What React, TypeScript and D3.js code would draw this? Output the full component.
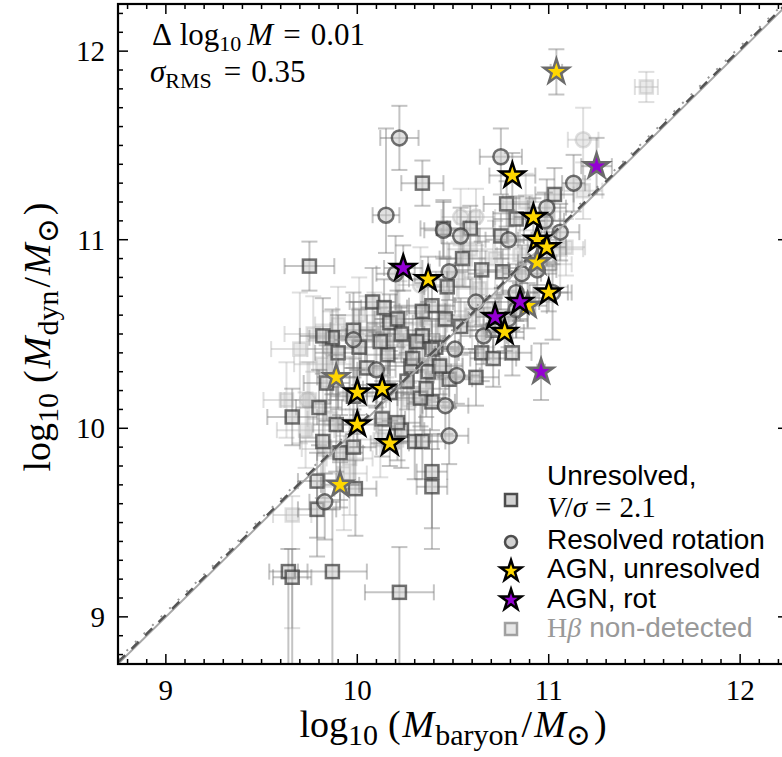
import React from 'react';
import * as d3 from 'd3';

type P = [number, number, number, number, number]; // x, y, xerr, yerrLow, yerrHigh

const unresolved: P[] = [
  [9.75, 10.86, 0.13, 0.13, 0.13], [10.34, 11.30, 0.11, 0.12, 0.12], [11.03, 11.24, 0.10, 0.14, 0.14],
  [10.78, 11.19, 0.12, 0.12, 0.12], [10.45, 11.06, 0.12, 0.15, 0.15], [10.59, 11.06, 0.12, 0.12, 0.12],
  [10.83, 11.11, 0.12, 0.12, 0.12], [10.75, 11.02, 0.12, 0.12, 0.12], [10.55, 10.90, 0.12, 0.15, 0.15],
  [10.65, 10.84, 0.14, 0.15, 0.15], [10.76, 10.83, 0.12, 0.12, 0.12], [10.08, 10.67, 0.12, 0.18, 0.18],
  [10.14, 10.64, 0.12, 0.15, 0.15], [10.17, 10.56, 0.12, 0.15, 0.15], [10.39, 10.65, 0.12, 0.15, 0.15],
  [10.46, 10.58, 0.12, 0.15, 0.15], [9.87, 10.48, 0.12, 0.30, 0.15], [9.90, 10.40, 0.12, 0.30, 0.20],
  [10.01, 10.43, 0.12, 0.20, 0.20], [10.16, 10.39, 0.12, 0.15, 0.15], [10.34, 10.49, 0.12, 0.15, 0.15],
  [10.41, 10.43, 0.12, 0.15, 0.15], [10.28, 10.33, 0.12, 0.15, 0.15], [10.37, 10.30, 0.12, 0.15, 0.15],
  [10.05, 10.32, 0.12, 0.20, 0.20], [9.84, 10.24, 0.12, 0.20, 0.20], [9.66, 10.06, 0.13, 0.15, 0.15],
  [9.80, 10.11, 0.12, 0.20, 0.20], [9.89, 10.02, 0.12, 0.25, 0.20], [9.82, 9.93, 0.12, 0.30, 0.20],
  [9.91, 9.87, 0.12, 0.25, 0.20], [10.13, 10.05, 0.12, 0.20, 0.20], [10.23, 9.99, 0.12, 0.20, 0.20],
  [10.30, 9.93, 0.12, 0.20, 0.20], [10.39, 9.77, 0.08, 0.30, 0.20], [10.39, 9.69, 0.08, 0.33, 0.20],
  [9.79, 9.72, 0.10, 0.30, 0.15], [9.99, 9.68, 0.11, 0.25, 0.15], [9.79, 9.57, 0.10, 0.25, 0.15],
  [9.64, 9.24, 0.10, 0.60, 0.12], [9.66, 9.21, 0.10, 0.60, 0.15], [9.87, 9.24, 0.18, 0.60, 0.33],
  [10.22, 9.13, 0.18, 0.60, 0.24], [10.81, 10.40, 0.10, 0.12, 0.12], [10.65, 10.40, 0.12, 0.15, 0.15],
  [10.71, 10.37, 0.12, 0.15, 0.15], [10.62, 10.27, 0.12, 0.15, 0.15], [10.48, 10.26, 0.12, 0.15, 0.15],
  [10.54, 10.54, 0.12, 0.15, 0.15], [10.71, 10.52, 0.12, 0.15, 0.15], [10.39, 10.14, 0.12, 0.15, 0.15],
  [10.33, 10.16, 0.12, 0.15, 0.15], [10.34, 9.93, 0.12, 0.20, 0.20], [9.98, 9.90, 0.12, 0.20, 0.20],
  [10.21, 10.03, 0.12, 0.20, 0.20], [9.82, 10.49, 0.12, 0.20, 0.20], [10.29, 10.37, 0.12, 0.15, 0.15],
  [10.26, 10.25, 0.12, 0.15, 0.15], [10.47, 10.75, 0.12, 0.15, 0.15],
  [10.34, 10.62, 0.12, 0.15, 0.15], [10.39, 10.42, 0.12, 0.15, 0.15], [10.17, 10.19, 0.12, 0.18, 0.18],
  [9.98, 10.17, 0.12, 0.20, 0.20], [10.36, 10.21, 0.12, 0.15, 0.15], [10.31, 10.46, 0.12, 0.15, 0.15],
  [10.43, 10.33, 0.12, 0.15, 0.15], [10.23, 10.50, 0.12, 0.15, 0.15], [10.21, 10.58, 0.12, 0.15, 0.15],
  [10.12, 10.46, 0.12, 0.18, 0.18], [9.98, 10.52, 0.12, 0.20, 0.20],
];

const resolved: P[] = [
  [10.22, 11.54, 0.10, 0.17, 0.17], [10.15, 11.13, 0.07, 0.20, 0.46], [10.45, 11.05, 0.10, 0.15, 0.15],
  [10.75, 11.44, 0.11, 0.20, 0.15], [11.13, 11.30, 0.06, 0.15, 0.15], [11.06, 11.04, 0.10, 0.15, 0.15],
  [10.99, 11.17, 0.10, 0.20, 0.15], [10.98, 11.10, 0.10, 0.15, 0.15], [10.79, 11.00, 0.12, 0.15, 0.15],
  [10.54, 11.02, 0.10, 0.15, 0.15], [10.48, 10.83, 0.10, 0.15, 0.15], [10.86, 10.82, 0.10, 0.15, 0.15],
  [10.94, 10.84, 0.10, 0.15, 0.15], [10.62, 10.67, 0.12, 0.15, 0.15], [10.83, 10.72, 0.10, 0.15, 0.15],
  [11.02, 10.72, 0.10, 0.25, 0.15], [10.66, 10.49, 0.12, 0.15, 0.15], [10.51, 10.42, 0.12, 0.15, 0.15],
  [10.52, 10.28, 0.12, 0.15, 0.15], [10.46, 10.12, 0.12, 0.15, 0.15], [10.48, 9.96, 0.10, 0.15, 0.15],
  [10.79, 10.58, 0.10, 0.15, 0.15], [10.83, 10.63, 0.10, 0.15, 0.15], [10.20, 10.82, 0.10, 0.20, 0.20],
  [9.98, 10.47, 0.10, 0.20, 0.20], [10.10, 10.31, 0.10, 0.20, 0.20], [9.83, 9.61, 0.08, 0.20, 0.15],
];

const agnUnresolved: P[] = [
  [10.81, 11.34, 0.12, 0.12, 0.12], [10.92, 11.12, 0.10, 0.10, 0.10], [10.94, 11.00, 0.10, 0.10, 0.10],
  [10.99, 10.96, 0.10, 0.10, 0.10], [10.37, 10.79, 0.10, 0.12, 0.12], [11.00, 10.72, 0.10, 0.10, 0.10],
  [10.77, 10.51, 0.10, 0.10, 0.10], [10.00, 10.19, 0.10, 0.12, 0.12], [10.13, 10.21, 0.10, 0.12, 0.12],
  [10.00, 10.02, 0.10, 0.12, 0.12], [10.17, 9.92, 0.10, 0.12, 0.12],
];
const agnUnresolvedFaint: P[] = [
  [10.94, 10.88, 0.10, 0.12, 0.12], [10.89, 10.65, 0.10, 0.12, 0.12], [9.89, 10.27, 0.10, 0.12, 0.12],
  [9.91, 9.70, 0.10, 0.12, 0.12], [11.04, 11.89, 0.03, 0.12, 0.12],
];
const agnRot: P[] = [
  [10.24, 10.85, 0.10, 0.12, 0.12], [10.85, 10.67, 0.10, 0.10, 0.10], [10.72, 10.59, 0.10, 0.10, 0.10],
];
const agnRotFaint: P[] = [
  [11.25, 11.39, 0.08, 0.15, 0.15], [10.96, 10.30, 0.02, 0.15, 0.15],
];

const nonDetectedSq: P[] = [
  [11.51, 11.81, 0.06, 0.08, 0.08], [10.88, 11.20, 0.12, 0.15, 0.15], [11.18, 11.26, 0.10, 0.15, 0.15],
  [11.09, 10.96, 0.10, 0.15, 0.15], [9.66, 9.54, 0.10, 0.60, 0.10], [9.77, 10.50, 0.15, 0.20, 0.20],
  [9.70, 10.42, 0.15, 0.50, 0.30], [9.82, 10.34, 0.15, 0.20, 0.20], [9.75, 10.15, 0.15, 0.20, 0.20],
  [9.73, 9.99, 0.15, 0.20, 0.20], [9.96, 9.84, 0.12, 0.30, 0.20], [9.93, 9.76, 0.12, 0.30, 0.20],
  [10.09, 10.52, 0.12, 0.20, 0.20], [10.22, 10.58, 0.12, 0.20, 0.20], [10.27, 10.44, 0.12, 0.20, 0.20],
  [10.53, 10.79, 0.12, 0.20, 0.20], [10.59, 10.95, 0.12, 0.20, 0.20], [10.72, 10.90, 0.12, 0.20, 0.20],
  [10.64, 10.74, 0.12, 0.20, 0.20], [10.85, 10.92, 0.12, 0.20, 0.20], [11.00, 10.87, 0.12, 0.20, 0.20],
  [11.06, 10.95, 0.12, 0.20, 0.20], [10.27, 10.15, 0.12, 0.20, 0.20], [10.12, 9.94, 0.12, 0.20, 0.20],
  [10.43, 10.34, 0.12, 0.20, 0.20], [9.96, 10.18, 0.12, 0.20, 0.20], [9.86, 10.05, 0.12, 0.20, 0.20],
  [10.01, 10.60, 0.12, 0.20, 0.20], [9.83, 9.89, 0.12, 0.20, 0.20], [9.63, 10.15, 0.12, 0.20, 0.20],
  [9.90, 10.55, 0.12, 0.20, 0.20], [10.05, 10.50, 0.12, 0.20, 0.20], [10.15, 10.47, 0.12, 0.20, 0.20],
  [10.35, 10.55, 0.12, 0.20, 0.20], [10.45, 10.62, 0.12, 0.20, 0.20], [10.60, 10.60, 0.12, 0.20, 0.20],
  [10.68, 10.63, 0.12, 0.20, 0.20],
];
const nonDetectedCirc: P[] = [
  [11.18, 11.53, 0.08, 0.21, 0.17], [10.54, 11.12, 0.10, 0.15, 0.15], [10.62, 11.12, 0.10, 0.15, 0.15],
  [9.74, 10.15, 0.12, 0.20, 0.20], [9.86, 10.42, 0.12, 0.20, 0.20], [10.33, 10.76, 0.12, 0.20, 0.20],
];

const xTicks = [9, 10, 11, 12];
const yTicks = [9, 10, 11, 12];
const deltaLogM = '0.01';
const sigmaRMS = '0.35';
const offset = 0.01;

const W = 782, H = 757;
const xDom: [number, number] = [8.75, 12.25];
const yDom: [number, number] = [8.75, 12.25];
const L = 118, R = 788, T = 4, B = 664;

const SERIF = '"Liberation Serif", "DejaVu Serif", serif';
const SANS = '"Liberation Sans", Arial, sans-serif';
const NB = '\u00A0';

const x = d3.scaleLinear().domain(xDom).range([L, R]);
const y = d3.scaleLinear().domain(yDom).range([B, T]);

const starPath = (r: number) => d3.symbol().type(d3.symbolStar).size((r * r) / 0.8908130915292852)()!;

function ErrBars({ data, color }: { data: P[]; color: string }) {
  const cap = 8;
  return (
    <g stroke={color} strokeWidth={2} fill="none">
      {data.map((p, i) => {
        const cx = x(p[0]), cy = y(p[1]);
        const x0 = x(p[0] - p[2]), x1 = x(p[0] + p[2]);
        const y0 = y(p[1] - p[3]), y1 = y(p[1] + p[4]);
        return (
          <g key={i}>
            <line x1={x0} x2={x1} y1={cy} y2={cy} />
            <line x1={x0} x2={x0} y1={cy - cap} y2={cy + cap} />
            <line x1={x1} x2={x1} y1={cy - cap} y2={cy + cap} />
            <line x1={cx} x2={cx} y1={y0} y2={y1} />
            <line x1={cx - cap} x2={cx + cap} y1={y0} y2={y0} />
            <line x1={cx - cap} x2={cx + cap} y1={y1} y2={y1} />
          </g>
        );
      })}
    </g>
  );
}

function Squares({ data, fill, stroke, s = 13 }: { data: P[]; fill: string; stroke: string; s?: number }) {
  return (
    <g>
      {data.map((p, i) => (
        <rect key={i} x={x(p[0]) - s / 2} y={y(p[1]) - s / 2} width={s} height={s} fill={fill} stroke={stroke} strokeWidth={2.5} />
      ))}
    </g>
  );
}
function Circles({ data, fill, stroke, r = 7.5 }: { data: P[]; fill: string; stroke: string; r?: number }) {
  return (
    <g>
      {data.map((p, i) => (
        <circle key={i} cx={x(p[0])} cy={y(p[1])} r={r} fill={fill} stroke={stroke} strokeWidth={2.5} />
      ))}
    </g>
  );
}
function Stars({ data, fill, stroke }: { data: P[]; fill: string; stroke: string }) {
  const d = starPath(13);
  return (
    <g>
      {data.map((p, i) => (
        <path key={i} d={d} transform={`translate(${x(p[0])},${y(p[1])})`} fill={fill} stroke={stroke} strokeWidth={2.5} strokeLinejoin="miter" />
      ))}
    </g>
  );
}

function MassLabel({ sub, transform, x0, y0 }: { sub: string; transform?: string; x0: number; y0: number }) {
  const big = 38, small = 30, dd = 8;
  return (
    <text x={x0} y={y0} transform={transform} textAnchor="middle" fontFamily={SERIF} fontSize={big}>
      log<tspan fontSize={small} dy={dd}>10</tspan>
      <tspan dy={-dd} dx={10}>(</tspan>
      <tspan fontStyle="italic" dx={2}>M</tspan>
      <tspan fontSize={small} dy={dd} dx={1}>{sub}</tspan>
      <tspan dy={-dd} dx={3}>/</tspan>
      <tspan fontStyle="italic" dx={2}>M</tspan>
      <tspan fontSize={small} dy={dd}>⊙</tspan>
      <tspan dy={-dd} dx={3}>)</tspan>
    </text>
  );
}

export default function App() {
  const minor: number[] = d3.range(88, 123).map((v) => v / 10).filter((v) => Math.abs(v - Math.round(v)) > 1e-6);
  const lineGen = (dy: number) => `M${x(8.75)},${y(8.75 + dy)}L${x(12.25)},${y(12.25 + dy)}`;
  const errCol = 'rgba(125,125,125,0.45)';
  const sqFill = 'rgba(200,200,200,0.55)';
  const sqStroke = 'rgba(60,60,60,0.72)';
  const ndFill = 'rgba(200,200,200,0.38)';
  const ndStroke = 'rgba(185,185,185,0.45)';
  const ndErr = 'rgba(170,170,170,0.38)';
  const yellow = '#FFD700';
  const purple = '#9400D3';
  const legX = 511, legTX = 547;
  return (
    <svg width={W} height={H} style={{ position: 'absolute', left: 0, top: 0, background: '#fff' }}>
      <defs>
        <clipPath id="plotclip"><rect x={L} y={T} width={R - L} height={B - T} /></clipPath>
      </defs>
      <rect x={0} y={0} width={W} height={H} fill="#fff" />
      <g clipPath="url(#plotclip)">
        <ErrBars data={nonDetectedSq} color={ndErr} />
        <ErrBars data={nonDetectedCirc} color={ndErr} />
        <Squares data={nonDetectedSq} fill={ndFill} stroke={ndStroke} />
        <Circles data={nonDetectedCirc} fill={ndFill} stroke={ndStroke} />
        <ErrBars data={unresolved} color={errCol} />
        <Squares data={unresolved} fill={sqFill} stroke={sqStroke} />
        <ErrBars data={resolved} color={errCol} />
        <Circles data={resolved} fill={sqFill} stroke={sqStroke} />
        <path d={lineGen(0)} stroke="#a8a8a8" strokeWidth={2} fill="none" />
        <path d={lineGen(offset)} stroke="#555" strokeWidth={2.5} strokeDasharray="10,9" fill="none" />
        <path d={lineGen(0.025)} stroke="#999" strokeWidth={2} strokeDasharray="2,10" fill="none" />
        <ErrBars data={[...agnUnresolvedFaint, ...agnRotFaint]} color={errCol} />
        <ErrBars data={[...agnUnresolved, ...agnRot]} color={errCol} />
        <Stars data={agnUnresolvedFaint} fill={yellow} stroke="#6b6b6b" />
        <Stars data={agnRotFaint} fill={purple} stroke="#6b6b6b" />
        <Stars data={agnRot} fill={purple} stroke="#000" />
        <Stars data={agnUnresolved} fill={yellow} stroke="#000" />
      </g>
      {/* frame */}
      <rect x={L} y={T} width={R - L} height={B - T} fill="none" stroke="#000" strokeWidth={2.2} />
      {/* ticks */}
      <g stroke="#000" strokeWidth={1.5}>
        {xTicks.map((t) => (
          <g key={'xt' + t}>
            <line x1={x(t)} x2={x(t)} y1={B} y2={B - 10} />
            <line x1={x(t)} x2={x(t)} y1={T} y2={T + 10} />
          </g>
        ))}
        {yTicks.map((t) => (
          <g key={'yt' + t}>
            <line x1={L} x2={L + 10} y1={y(t)} y2={y(t)} />
            <line x1={R} x2={R - 10} y1={y(t)} y2={y(t)} />
          </g>
        ))}
        {minor.map((t) => (
          <g key={'m' + t}>
            <line x1={x(t)} x2={x(t)} y1={B} y2={B - 5} />
            <line x1={x(t)} x2={x(t)} y1={T} y2={T + 5} />
            <line x1={L} x2={L + 5} y1={y(t)} y2={y(t)} />
            <line x1={R} x2={R - 5} y1={y(t)} y2={y(t)} />
          </g>
        ))}
      </g>
      {/* tick labels */}
      <g fontFamily={SERIF} fontSize={29} fill="#000">
        {xTicks.map((t) => (
          <text key={'xl' + t} x={x(t)} y={700} textAnchor="middle">{t}</text>
        ))}
        {yTicks.map((t) => (
          <text key={'yl' + t} x={105} y={y(t) + 10} textAnchor="end">{t}</text>
        ))}
      </g>
      {/* axis labels */}
      <MassLabel sub="baryon" x0={453} y0={737} />
      <MassLabel sub="dyn" x0={0} y0={0} transform="translate(50,337) rotate(-90)" />
      {/* annotation */}
      <text x={152} y={45} fontFamily={SERIF} fontSize={31}>
        {'Δ' + NB}log<tspan fontSize={22} dy={6}>10</tspan>
        <tspan dy={-6} fontStyle="italic" dx={6}>M</tspan>
        <tspan dx={10}>=</tspan>
        <tspan dx={10}>{deltaLogM}</tspan>
      </text>
      <text x={150} y={82} fontFamily={SERIF} fontSize={31}>
        <tspan fontStyle="italic">σ</tspan>
        <tspan fontSize={22} dy={6}>RMS</tspan>
        <tspan dy={-6} dx={12}>=</tspan>
        <tspan dx={10}>{sigmaRMS}</tspan>
      </text>
      {/* legend */}
      <g>
        <rect x={legX - 6} y={500 - 6} width={12} height={12} fill="rgba(205,205,205,0.9)" stroke="rgba(60,60,60,0.9)" strokeWidth={2.5} />
        <circle cx={legX} cy={542} r={6} fill="rgba(205,205,205,0.9)" stroke="rgba(60,60,60,0.9)" strokeWidth={2.5} />
        <path d={starPath(11)} transform={`translate(${legX},571)`} fill={yellow} stroke="#000" strokeWidth={2.5} />
        <path d={starPath(11)} transform={`translate(${legX},600)`} fill={purple} stroke="#000" strokeWidth={2.5} />
        <rect x={legX - 6} y={629 - 6} width={12} height={12} fill="rgba(215,215,215,0.6)" stroke="rgba(140,140,140,0.8)" strokeWidth={2.5} />
        <text x={legTX} y={485} fontFamily={SANS} fontSize={28}>Unresolved,</text>
        <text x={legTX} y={517} fontFamily={SERIF} fontSize={29}>
          <tspan fontStyle="italic">V</tspan>/<tspan fontStyle="italic">σ</tspan>
          <tspan dx={8}>=</tspan>
          <tspan dx={8}>2.1</tspan>
        </text>
        <text x={legTX} y={549} fontFamily={SANS} fontSize={28}>Resolved rotation</text>
        <text x={legTX} y={578} fontFamily={SANS} fontSize={28}>AGN, unresolved</text>
        <text x={legTX} y={608} fontFamily={SANS} fontSize={28}>AGN, rot</text>
        <text x={legTX} y={637} fontSize={28} fill="#999">
          <tspan fontFamily={SERIF}>H</tspan>
          <tspan fontFamily={SERIF} fontStyle="italic">β</tspan>
          <tspan fontFamily={SANS} dx={8}>non-detected</tspan>
        </text>
      </g>
    </svg>
  );
}
